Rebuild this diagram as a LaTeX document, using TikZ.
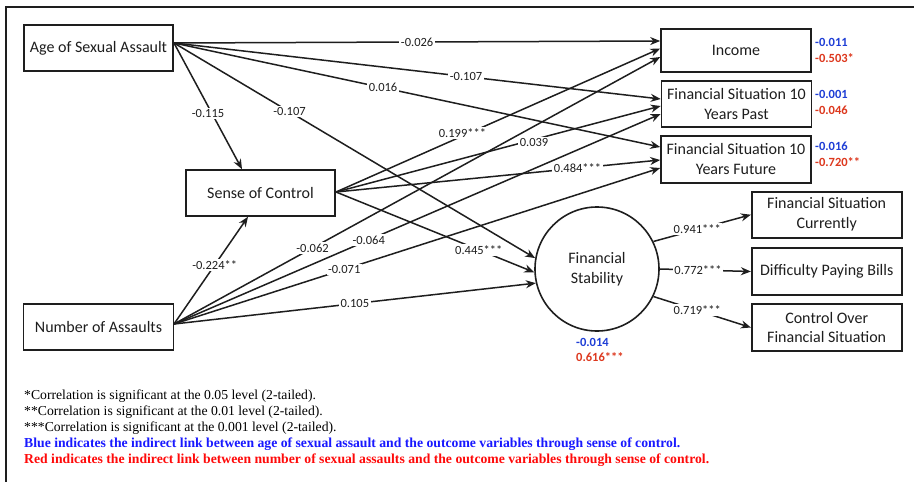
\documentclass[tikz,border=0pt]{standalone}
\usepackage{fontspec}
\setmainfont{Carlito}
\newfontfamily\timesfont{Liberation Serif}
\usetikzlibrary{arrows.meta,calc}
\definecolor{sblue}{RGB}{30,62,214}
\definecolor{sred}{RGB}{221,56,30}
\definecolor{fblue}{RGB}{25,25,255}
\definecolor{fred}{RGB}{255,10,10}
\definecolor{ink}{RGB}{30,30,30}
\begin{document}
\begin{tikzpicture}[x=1pt,y=-1pt,
  varbox/.style={draw=ink, line width=1.6pt, minimum width=150pt, minimum height=46pt, align=center, inner sep=2pt, text=ink, font=\fontsize{16}{20}\selectfont},
  latent/.style={draw=ink, line width=1.6pt, circle, minimum size=124pt, align=center, text=ink, font=\fontsize{16}{20}\selectfont},
  conn/.style={draw=ink, line width=1.5pt, -{Stealth[length=10pt,width=8pt]}},
  plain/.style={draw=ink, line width=1.5pt},
  lbl/.style={fill=white, inner sep=1.5pt, text=ink, font=\fontsize{12.5}{14}\selectfont},
  sidel/.style={anchor=west, inner sep=0pt, font=\bfseries\fontsize{12.5}{14}\selectfont},
  foot/.style={anchor=west, inner sep=0pt, font=\timesfont\fontsize{13.7}{16}\selectfont},
  footb/.style={anchor=west, inner sep=0pt, font=\timesfont\bfseries\fontsize{13.7}{16}\selectfont}
]
\useasboundingbox (0,0) rectangle (914,482);
\fill[white] (0,0) rectangle (914,482);
% frame
\coordinate (fr1) at (6,482);
\coordinate (fr2) at (6,7);
\coordinate (fr3) at (914,7);
\draw[ink, line width=1.5pt] (fr1) -- (fr2) -- (fr3);

% nodes
\node[varbox, minimum width=149pt] (age) at (98.5,48) {Age of Sexual Assault};
\node[varbox, minimum width=149pt] (soc) at (260.5,193) {Sense of Control};
\node[varbox] (num) at (98.5,327) {Number of Assaults};
\node[varbox, minimum height=43pt] (inc) at (736,50.5) {Income};
\node[varbox] (past) at (736.5,104) {Financial Situation 10\\Years Past};
\node[varbox, minimum height=47pt] (fut) at (736,159.5) {Financial Situation 10\\Years Future};
\node[varbox] (cur) at (826.7,214.7) {Financial Situation\\Currently};
\node[varbox, minimum height=47pt] (dif) at (826.7,271.5) {Difficulty Paying Bills};
\node[varbox, minimum height=47pt] (ctl) at (826.7,327.5) {Control Over\\Financial Situation};
\node[latent] (fs) at (597,269) {Financial\\Stability};

% connection points
\coordinate (ageout) at (174,43);
\coordinate (socout) at (336,192);
\coordinate (numout) at (174,324);
\coordinate (inc1) at ($(inc.west)+(0,-9.5)$);
\coordinate (inc2) at ($(inc.west)+(0,-2)$);
\coordinate (inc3) at ($(inc.west)+(0,6.5)$);
\coordinate (past1) at ($(past.west)+(0,-5)$);
\coordinate (past2) at ($(past.west)+(0,2)$);
\coordinate (past3) at ($(past.west)+(0,10)$);
\coordinate (fut1) at ($(fut.west)+(0,-12.5)$);
\coordinate (fut2) at ($(fut.west)+(0,0.5)$);
\coordinate (fut3) at ($(fut.west)+(0,8.5)$);
\coordinate (socin1) at ($(soc.north)+(-18.5,0)$);
\coordinate (socin2) at ($(soc.south)+(-12.5,0)$);

% from Age of Sexual Assault
\draw[conn] (ageout) -- node[lbl,pos=0.50]{-0.026} (inc1);
\draw[conn] (ageout) -- node[lbl,pos=0.60]{-0.107} (past1);
\draw[conn] (ageout) -- node[lbl,pos=0.43]{0.016} (fut1);
\draw[conn] (ageout) -- node[lbl,pos=0.32]{-0.107} (fs.170);
\draw[conn] (ageout) -- node[lbl,pos=0.56,xshift=-4pt]{-0.115} (socin1);

% from Sense of Control
\draw[conn] (socout) -- node[lbl,pos=0.39,yshift=3pt]{0.199***} (inc2);
\draw[conn] (socout) -- node[lbl,pos=0.61,yshift=-3pt]{0.039} (past2);
\draw[conn] (socout) -- node[lbl,pos=0.745]{0.484***} (fut2);
\draw[conn] (socout) -- node[lbl,pos=0.72]{0.445***} (fs.183);

% from Number of Assaults
\draw[conn] (numout) -- node[lbl,pos=0.285]{-0.062} (inc3);
\draw[conn] (numout) -- node[lbl,pos=0.40]{-0.064} (past3);
\draw[conn] (numout) -- node[lbl,pos=0.35]{-0.071} (fut3);
\draw[conn] (numout) -- node[lbl,pos=0.50]{0.105} (fs.193);
\draw[conn] (numout) -- node[lbl,pos=0.55]{-0.224**} (socin2);

% from Financial Stability
\draw[conn] (fs.26) -- node[lbl,pos=0.45]{0.941***} (cur.west);
\draw[conn] (fs.east) -- node[lbl,pos=0.42]{0.772***} (dif.west);
\draw[conn] (fs.-26) -- node[lbl,pos=0.45]{0.719***} (ctl.west);

% indirect effects
\node[sidel, text=sblue] (incb) at (815,42) {-0.011};
\node[sidel, text=sred] (incr) at (815,58) {-0.503*};
\node[sidel, text=sblue] (pastb) at (815,94) {-0.001};
\node[sidel, text=sred] (pastr) at (815,110) {-0.046};
\node[sidel, text=sblue] (futb) at (815,146) {-0.016};
\node[sidel, text=sred] (futr) at (815,162) {-0.720**};
\node[sidel, text=sblue] (fsb) at (576,342) {-0.014};
\node[sidel, text=sred] (fsr) at (576,357) {0.616***};

% footnotes
\node[foot] (f1) at (24,396) {*Correlation is significant at the 0.05 level (2-tailed).};
\node[foot] (f2) at (24,412) {**Correlation is significant at the 0.01 level (2-tailed).};
\node[foot] (f3) at (24,428) {***Correlation is significant at the 0.001 level (2-tailed).};
\node[footb, text=fblue] (f4) at (24,444) {Blue indicates the indirect link between age of sexual assault and the outcome variables through sense of control.};
\node[footb, text=fred] (f5) at (24,460) {Red indicates the indirect link between number of sexual assaults and the outcome variables through sense of control.};
\end{tikzpicture}
\end{document}
